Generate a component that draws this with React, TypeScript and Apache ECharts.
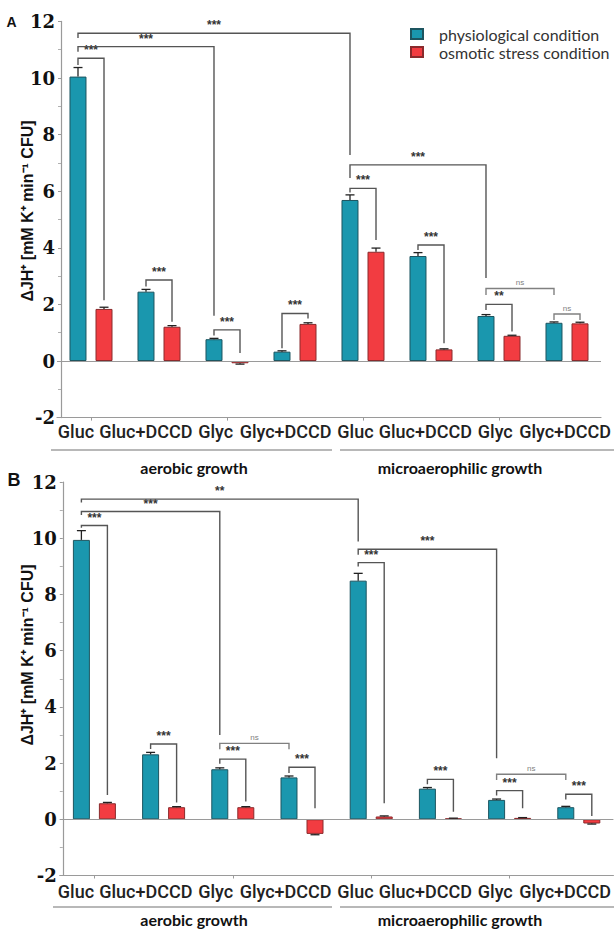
import React, { useEffect, useRef } from "react";
import * as echarts from "echarts";

// ---------- data ----------
const categories = ["Gluc", "Gluc+DCCD", "Glyc", "Glyc+DCCD", "Gluc", "Gluc+DCCD", "Glyc", "Glyc+DCCD"];
const seriesNames = ["physiological condition", "osmotic stress condition"];
const yTicks = { min: -2, max: 12, step: 2 };

// Panel A
const physioA = [10.05, 2.45, 0.77, 0.33, 5.69, 3.71, 1.59, 1.35];
const physioErrA = [0.32, 0.08, 0.03, 0.03, 0.18, 0.12, 0.05, 0.03];
const osmoticA = [1.84, 1.21, -0.08, 1.31, 3.86, 0.41, 0.89, 1.33];
const osmoticErrA = [0.06, 0.04, 0.03, 0.04, 0.13, 0.02, 0.02, 0.04];

// Panel B
const physioB = [9.94, 2.31, 1.78, 1.49, 8.49, 1.09, 0.69, 0.43];
const physioErrB = [0.33, 0.07, 0.05, 0.05, 0.26, 0.04, 0.03, 0.03];
const osmoticB = [0.57, 0.43, 0.43, -0.52, 0.1, 0.03, 0.05, -0.15];
const osmoticErrB = [0.03, 0.02, 0.02, 0.03, 0.02, 0.01, 0.01, 0.02];

// significance brackets: [cat1, side1 (0 physio / 1 osmotic), cat2, side2, level, foot1, foot2]
const bracketsA: [number, number, number, number, number, number, number][] = [
  [0, 0, 0, 1, 10.7, 10.46, 2.15],
  [0, 0, 2, 0, 11.11, 10.93, 1.6],
  [0, 0, 4, 0, 11.58, 11.41, 7.28],
  [1, 0, 1, 1, 2.86, 2.63, 1.39],
  [2, 0, 2, 1, 1.1, 0.9, 0.28],
  [3, 0, 3, 1, 1.68, 0.45, 1.5],
  [4, 0, 4, 1, 6.1, 5.95, 4.28],
  [4, 0, 6, 0, 6.93, 6.47, 2.93],
  [5, 0, 5, 1, 4.1, 3.92, 0.63],
  [6, 0, 6, 1, 2.0, 1.8, 1.04],
  [6, 0, 7, 0, 2.56, 2.33, 2.33],
  [7, 0, 7, 1, 1.66, 1.45, 1.45],
];
const bracketLabelsA = ["***", "***", "***", "***", "***", "***", "***", "***", "***", "**", "ns", "ns"];

const bracketsB: [number, number, number, number, number, number, number][] = [
  [0, 0, 0, 1, 10.45, 10.37, 0.86],
  [0, 0, 2, 0, 10.95, 10.83, 3.0],
  [0, 0, 4, 0, 11.39, 11.27, 9.88],
  [1, 0, 1, 1, 2.68, 2.5, 0.6],
  [2, 0, 2, 1, 2.14, 1.98, 0.63],
  [2, 0, 3, 0, 2.7, 2.49, 2.49],
  [3, 0, 3, 1, 1.85, 1.65, 0.39],
  [4, 0, 4, 1, 9.13, 8.99, 0.57],
  [4, 0, 6, 0, 9.61, 9.41, 2.17],
  [5, 0, 5, 1, 1.42, 1.25, 0.27],
  [6, 0, 6, 1, 1.02, 0.85, 0.39],
  [6, 0, 7, 0, 1.6, 1.4, 1.4],
  [7, 0, 7, 1, 0.89, 0.7, 0.12],
];
const bracketLabelsB = ["***", "***", "**", "***", "***", "ns", "***", "***", "***", "***", "***", "ns", "***"];

const groupLabels = ["aerobic growth", "microaerophilic growth"];
const yAxisTitle = "ΔJH⁺ [mM K⁺ min⁻¹ CFU]";

// ---------- styles ----------
const BLUE = "#1a97ae";
const BLUE_EDGE = "#1d5560";
const RED = "#f23c41";
const RED_EDGE = "#8a2a2c";
const BAR_W = 17;
const BAR_GAP = 0.53;
const SIDE_OFFSET = (BAR_W * (1 + BAR_GAP)) / 2;
const AXIS_COLOR = "#9a9a9a";
const BRACKET_COLOR = "#555";

type PanelCfg = {
  barGrid: { left: number; top: number; width: number; height: number };
  labelGrid: { left: number; width: number };
  yOffset: number;
  labelMargin: number;
  physio: number[];
  physioErr: number[];
  osmotic: number[];
  osmoticErr: number[];
  brackets: [number, number, number, number, number, number, number][];
  bracketLabels: string[];
};

const panels: PanelCfg[] = [
  {
    barGrid: { left: 57, top: 21.4, width: 544, height: 396.2 },
    labelGrid: { left: 41, width: 561 },
    yOffset: -4,
    labelMargin: 5,
    physio: physioA,
    physioErr: physioErrA,
    osmotic: osmoticA,
    osmoticErr: osmoticErrA,
    brackets: bracketsA,
    bracketLabels: bracketLabelsA,
  },
  {
    barGrid: { left: 59.8, top: 482, width: 553.6, height: 393.5 },
    labelGrid: { left: 41, width: 561 },
    yOffset: -3,
    labelMargin: 7,
    physio: physioB,
    physioErr: physioErrB,
    osmotic: osmoticB,
    osmoticErr: osmoticErrB,
    brackets: bracketsB,
    bracketLabels: bracketLabelsB,
  },
];

function buildOption() {
  const grid: any[] = [];
  const xAxis: any[] = [];
  const yAxis: any[] = [];
  const series: any[] = [];

  panels.forEach((p, pi) => {
    const barGridIdx = pi * 2;
    const labelGridIdx = pi * 2 + 1;
    grid.push({ ...p.barGrid, containLabel: false });
    grid.push({ left: p.labelGrid.left, width: p.labelGrid.width, top: p.barGrid.top, height: p.barGrid.height, containLabel: false });

    xAxis.push({
      type: "category",
      gridIndex: barGridIdx,
      data: categories,
      axisLine: { show: true, onZero: false, lineStyle: { color: AXIS_COLOR, width: 1.2 } },
      axisTick: { show: true, alignWithLabel: true, length: 3, lineStyle: { color: AXIS_COLOR } },
      axisLabel: { show: false },
      splitLine: { show: false },
    });
    xAxis.push({
      type: "category",
      gridIndex: labelGridIdx,
      data: categories,
      axisLine: { show: false },
      axisTick: { show: false },
      axisLabel: {
        show: true,
        interval: 0,
        margin: p.labelMargin,
        fontFamily: "Roboto",
        fontWeight: 500,
        fontSize: 18,
        lineHeight: 18,
        color: "#222",
      },
      splitLine: { show: false },
    });

    yAxis.push({
      type: "value",
      gridIndex: barGridIdx,
      min: yTicks.min,
      max: yTicks.max,
      interval: yTicks.step,
      offset: p.yOffset,
      axisLine: { show: true, lineStyle: { color: AXIS_COLOR, width: 1.2 } },
      axisTick: { show: true, length: 3, lineStyle: { color: AXIS_COLOR } },
      minorTick: { show: true, splitNumber: 2, length: 3, lineStyle: { color: "#b0b0b0" } },
      splitLine: { show: false },
      axisLabel: {
        fontFamily: "DejaVu Serif",
        fontWeight: "bold",
        fontSize: 18,
        color: "#111",
        margin: 6,
      },
    });
    yAxis.push({ type: "value", gridIndex: labelGridIdx, show: false, min: 0, max: 1 });

    const xi = barGridIdx;
    const yi = barGridIdx;

    series.push({
      type: "bar",
      name: seriesNames[0],
      xAxisIndex: xi,
      yAxisIndex: yi,
      data: p.physio,
      barWidth: BAR_W,
      barGap: `${BAR_GAP * 100}%`,
      itemStyle: { color: BLUE, borderColor: BLUE_EDGE, borderWidth: 1 },
      markLine: {
        silent: true,
        symbol: ["none", "none"],
        label: { show: false },
        lineStyle: { color: AXIS_COLOR, width: 1.2, type: "solid" },
        data: [{ yAxis: 0 }],
      },
      z: 2,
    });
    series.push({
      type: "bar",
      name: seriesNames[1],
      xAxisIndex: xi,
      yAxisIndex: yi,
      data: p.osmotic,
      barWidth: BAR_W,
      barGap: `${BAR_GAP * 100}%`,
      itemStyle: { color: RED, borderColor: RED_EDGE, borderWidth: 1 },
      z: 2,
    });

    [
      { vals: p.physio, errs: p.physioErr, side: 0 },
      { vals: p.osmotic, errs: p.osmoticErr, side: 1 },
    ].forEach(({ vals, errs, side }) => {
      series.push({
        type: "custom",
        xAxisIndex: xi,
        yAxisIndex: yi,
        silent: true,
        z: 3,
        data: vals.map((v, i) => [i, v, errs[i]]),
        encode: { x: 0, y: 1 },
        renderItem: (params: any, api: any) => {
          const i = api.value(0);
          const v = api.value(1);
          const e = api.value(2);
          const sign = v < 0 ? -1 : 1;
          const dx = side === 0 ? -SIDE_OFFSET : SIDE_OFFSET;
          const p0 = api.coord([i, v]);
          const p1 = api.coord([i, v + sign * e]);
          const x = p0[0] + dx;
          const st = { stroke: "#222", lineWidth: 1.3 };
          return {
            type: "group",
            children: [
              { type: "line", shape: { x1: x, y1: p0[1], x2: x, y2: p1[1] }, style: st },
              { type: "line", shape: { x1: x - 4.5, y1: p1[1], x2: x + 4.5, y2: p1[1] }, style: st },
            ],
          };
        },
      });
    });

    const br = p.brackets;
    const brLabels = p.bracketLabels;
    series.push({
      type: "custom",
      xAxisIndex: xi,
      yAxisIndex: yi,
      silent: true,
      z: 4,
      data: br.map((b) => b.slice()),
      encode: { x: 0, y: 4 },
      renderItem: (params: any, api: any) => {
        const c1 = api.value(0);
        const s1 = api.value(1);
        const c2 = api.value(2);
        const s2 = api.value(3);
        const lvl = api.value(4);
        const f1 = api.value(5);
        const f2 = api.value(6);
        const a = api.coord([c1, lvl]);
        const b = api.coord([c2, lvl]);
        const x1 = a[0] + (s1 === 0 ? -SIDE_OFFSET : SIDE_OFFSET);
        const x2 = b[0] + (s2 === 0 ? -SIDE_OFFSET : SIDE_OFFSET);
        const yl = a[1];
        const y1 = api.coord([c1, f1])[1];
        const y2 = api.coord([c2, f2])[1];
        const lab = brLabels[params.dataIndex];
        const isNs = lab === "ns";
        return {
          type: "group",
          children: [
            {
              type: "polyline",
              shape: { points: [[x1, y1], [x1, yl], [x2, yl], [x2, y2]] },
              style: { stroke: isNs ? "#808080" : BRACKET_COLOR, lineWidth: 1.4, fill: "none" },
            },
            {
              type: "text",
              x: (x1 + x2) / 2,
              y: isNs ? yl - 6 : yl - 2,
              style: {
                text: lab,
                fontFamily: "Liberation Sans",
                fontSize: isNs ? 8 : 12,
                fontWeight: isNs ? "normal" : "bold",
                fill: isNs ? "#808080" : "#333",
                align: "center",
                verticalAlign: isNs ? "middle" : "bottom",
              },
            },
          ],
        };
      },
    });
  });

  const graphic: any[] = [
    { type: "text", x: 11.5, y: 22, style: { text: "A", fontFamily: "Liberation Sans", fontWeight: "bold", fontSize: 14, fill: "#111", align: "center", verticalAlign: "middle" } },
    { type: "text", x: 14, y: 480, style: { text: "B", fontFamily: "Liberation Sans", fontWeight: "bold", fontSize: 18, fill: "#111", align: "center", verticalAlign: "middle" } },
    { type: "text", x: 27, y: 211, rotation: Math.PI / 2, style: { text: yAxisTitle, fontFamily: "Liberation Sans", fontWeight: "bold", fontSize: 16, fill: "#111", align: "center", verticalAlign: "middle" } },
    { type: "text", x: 27, y: 655, rotation: Math.PI / 2, style: { text: yAxisTitle, fontFamily: "Liberation Sans", fontWeight: "bold", fontSize: 16, fill: "#111", align: "center", verticalAlign: "middle" } },
  ];
  const groupRows = [
    { lineY: 450, textY: 467, x0: 51 },
    { lineY: 907, textY: 919, x0: 53 },
  ];
  groupRows.forEach((g) => {
    graphic.push({ type: "line", shape: { x1: g.x0, y1: g.lineY, x2: 332, y2: g.lineY }, style: { stroke: "#a0a0a0", lineWidth: 1.3 } });
    graphic.push({ type: "line", shape: { x1: 340, y1: g.lineY, x2: 614, y2: g.lineY }, style: { stroke: "#a0a0a0", lineWidth: 1.3 } });
    graphic.push({ type: "text", x: 194, y: g.textY, style: { text: groupLabels[0], fontFamily: "Lato", fontWeight: "bold", fontSize: 16, fill: "#111", align: "center", verticalAlign: "middle" } });
    graphic.push({ type: "text", x: 460, y: g.textY, style: { text: groupLabels[1], fontFamily: "Lato", fontWeight: "bold", fontSize: 16, fill: "#111", align: "center", verticalAlign: "middle" } });
  });

  return {
    animation: false,
    backgroundColor: "#fff",
    legend: {
      orient: "vertical",
      left: 405,
      top: 21,
      itemWidth: 12,
      itemHeight: 10,
      itemGap: 2,
      icon: "rect",
      data: seriesNames,
      textStyle: { fontFamily: "Lato", fontSize: 16, lineHeight: 16, color: "#333", padding: [0, 0, 0, 11] },
    },
    grid,
    xAxis,
    yAxis,
    series,
    graphic,
  };
}

export default function App() {
  const ref = useRef<HTMLDivElement>(null);
  useEffect(() => {
    document.body.style.margin = "0";
    const chart = echarts.init(ref.current!, null, { renderer: "svg" });
    chart.setOption(buildOption() as any);
    return () => chart.dispose();
  }, []);
  return <div ref={ref} style={{ width: 614, height: 930 }} />;
}
